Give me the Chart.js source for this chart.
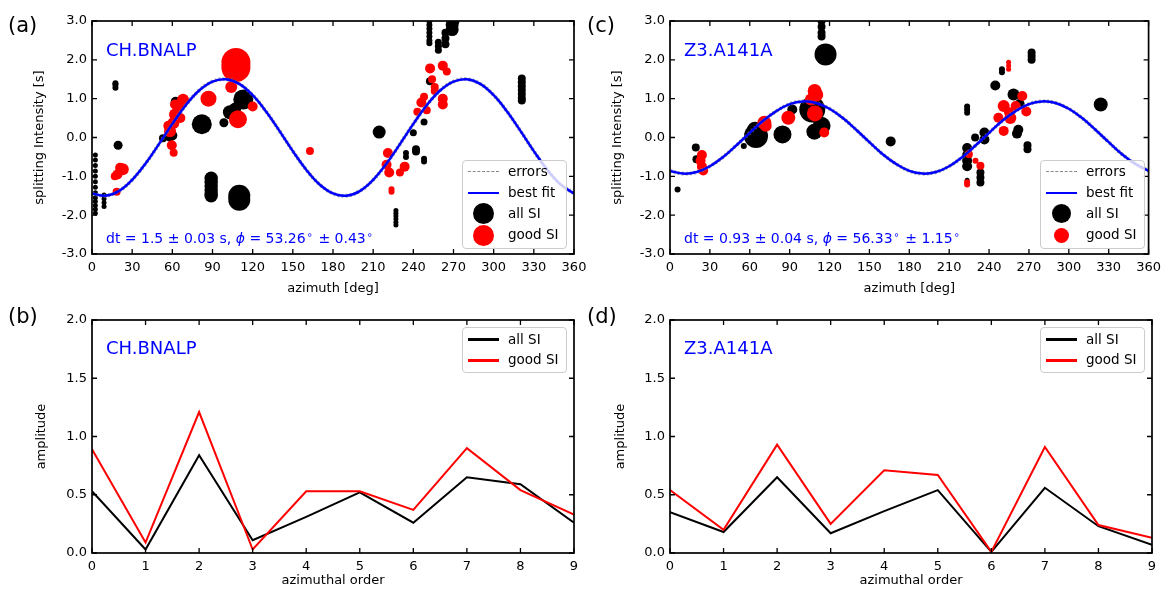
<!DOCTYPE html>
<html>
<head>
<meta charset="utf-8">
<script src="https://cdn.jsdelivr.net/npm/chart.js@4.4.1/dist/chart.umd.min.js"></script>
<style>
  body { margin: 0; background: #fff; }
  #fig { position: relative; width: 1167px; height: 589px; overflow: hidden; font-family: 'DejaVu Sans', sans-serif; color: #000; }
  canvas { position: absolute; }
  .tag { position: absolute; font-size: 21px; line-height: 1; transform: translateY(-53%); }
  .stn { position: absolute; font-size: 18px; line-height: 1; color: #0000ff; transform: translateY(-48%); }
  .fit { position: absolute; font-size: 14px; line-height: 1; color: #0000ff; white-space: nowrap; transform: translateY(-52%); }
  .fit sup { font-size: 10px; vertical-align: 5px; line-height: 0; padding: 0 1px; }
  .leg { position: absolute; box-sizing: border-box; background: rgba(255,255,255,0.8); border: 1.5px solid #cccccc; border-radius: 4px; font-size: 13.5px; }
  .hd { position: absolute; left: 5px; width: 31px; height: 2.5px; margin-top: -1.25px; }
  .hd.dash { height: 0; margin-top: -0.75px; border-top: 1.5px dashed #8a8a8a; }
  .dot { position: absolute; left: 20px; border-radius: 50%; }
  .lt { position: absolute; left: 45px; line-height: 1; white-space: nowrap; transform: translateY(-55%); }
</style>
</head>
<body>
<div id="fig">
  <canvas id="ca" width="600" height="300" style="left:0;top:0"></canvas>
  <canvas id="cb" width="600" height="289" style="left:0;top:300px"></canvas>
  <canvas id="cc" width="584" height="300" style="left:583px;top:0"></canvas>
  <canvas id="cd" width="584" height="289" style="left:583px;top:300px"></canvas>

  <div class="tag" style="left:8px;top:26px">(a)</div>
  <div class="tag" style="left:8px;top:317px">(b)</div>
  <div class="tag" style="left:587px;top:26px">(c)</div>
  <div class="tag" style="left:587px;top:317px">(d)</div>

  <div class="stn" style="left:106px;top:50px">CH.BNALP</div>
  <div class="stn" style="left:106px;top:348px">CH.BNALP</div>
  <div class="stn" style="left:684px;top:50px">Z3.A141A</div>
  <div class="stn" style="left:684px;top:348px">Z3.A141A</div>

  <div class="fit" style="left:106px;top:238px">dt = 1.5 ± 0.03 s, <i>ϕ</i> = 53.26<sup>∘</sup> ± 0.43<sup>∘</sup></div>
  <div class="fit" style="left:684px;top:238px">dt = 0.93 ± 0.04 s, <i>ϕ</i> = 56.33<sup>∘</sup> ± 1.15<sup>∘</sup></div>

  <div class="leg" style="left:462px;top:160px;width:105px;height:89px">
    <div class="hd dash" style="top:11px"></div><span class="lt" style="top:11px">errors</span>
    <div class="hd" style="top:32px;background:#0000ff"></div><span class="lt" style="top:32px">best fit</span>
    <div class="dot" style="top:42px;width:21px;height:21px;margin-left:-10.5px;background:#000"></div><span class="lt" style="top:52.5px">all SI</span>
    <div class="dot" style="top:63.5px;width:21px;height:21px;margin-left:-10.5px;background:#ff0000"></div><span class="lt" style="top:74px">good SI</span>
  </div>
  <div class="leg" style="left:1040px;top:160px;width:105px;height:89px">
    <div class="hd dash" style="top:11px"></div><span class="lt" style="top:11px">errors</span>
    <div class="hd" style="top:32px;background:#0000ff"></div><span class="lt" style="top:32px">best fit</span>
    <div class="dot" style="top:43px;width:19px;height:19px;margin-left:-9.5px;background:#000"></div><span class="lt" style="top:52.5px">all SI</span>
    <div class="dot" style="top:66.5px;width:15px;height:15px;margin-left:-7.5px;background:#ff0000"></div><span class="lt" style="top:74px">good SI</span>
  </div>
  <div class="leg" style="left:462px;top:327px;width:105px;height:46px">
    <div class="hd" style="top:11.5px;height:3px;background:#000"></div><span class="lt" style="top:11.5px">all SI</span>
    <div class="hd" style="top:32px;height:3px;background:#ff0000"></div><span class="lt" style="top:32px">good SI</span>
  </div>
  <div class="leg" style="left:1040px;top:327px;width:105px;height:46px">
    <div class="hd" style="top:11.5px;height:3px;background:#000"></div><span class="lt" style="top:11.5px">all SI</span>
    <div class="hd" style="top:32px;height:3px;background:#ff0000"></div><span class="lt" style="top:32px">good SI</span>
  </div>
</div>

<script>
// fitted sine curves, every 10 degrees
const fitAz = [0,10,20,30,40,50,60,70,80,90,100,110,120,130,140,150,160,170,180,
               190,200,210,220,230,240,250,260,270,280,290,300,310,320,330,340,350,360];
const bnalpFit = [-1.44,-1.50,-1.38,-1.09,-0.67,-0.17,0.35,0.83,1.21,1.44,1.50,1.38,1.09,0.67,0.17,-0.35,-0.83,-1.21,-1.44,
                  -1.50,-1.38,-1.09,-0.67,-0.17,0.35,0.83,1.21,1.44,1.50,1.38,1.09,0.67,0.17,-0.35,-0.83,-1.21,-1.44];
const a141Fit = [-0.86,-0.93,-0.89,-0.74,-0.50,-0.20,0.12,0.43,0.68,0.86,0.93,0.89,0.74,0.50,0.20,-0.12,-0.43,-0.68,-0.86,
                 -0.93,-0.89,-0.74,-0.50,-0.20,0.12,0.43,0.68,0.86,0.93,0.89,0.74,0.50,0.20,-0.12,-0.43,-0.68,-0.86];

// splitting intensity measurements: [azimuth, SI, marker radius]
const bnalpAll = [
  [2.5,-0.45,2.5],[2.5,-0.58,2.5],[2.5,-0.72,2.5],[2.5,-0.86,2.5],[2.5,-1.0,2.5],[2.5,-1.14,2.5],[2.5,-1.28,2.5],
  [2.5,-1.42,2.5],[2.5,-1.55,2.5],[2.5,-1.65,2.5],[2.5,-1.75,2.5],[2.5,-1.85,2.5],[2.5,-1.95,2.5],
  [9,-1.48,2.5],[9,-1.58,2.5],[9,-1.68,2.5],[9,-1.78,2.5],
  [17.5,1.28,3],[17.5,1.36,3],[17.5,1.4,3],[19.5,-0.2,4.5],
  [53,-0.02,4],[58,0.0,4],[60,0.05,5],[62.5,0.92,5],
  [82,0.34,10],
  [89,-1.05,6.7],[89,-1.15,6.7],[89,-1.25,6.7],[89,-1.35,6.7],[89,-1.45,6.7],[89,-1.5,6.7],
  [110,-1.5,11],[110,-1.6,11],
  [98.5,0.38,4.5],[103,0.65,7],[107,0.75,6],[113,0.98,10],[116,1.05,6],
  [214.5,0.14,6.5],
  [252,3.0,3],[252,2.9,3],[252,2.8,3],[252,2.7,3],[252,2.6,3],[252,2.5,3],[252,2.43,3],
  [258.7,2.45,3.5],[258.7,2.35,3.5],[258.7,2.25,3.5],
  [264,2.4,4],[264,2.55,4],[264,2.7,4],
  [269,2.78,6.5],[269,2.9,6.5],[270,3.0,6],
  [252.4,1.45,4],[248,0.4,3.5],[240,0.12,3.5],[242,-0.3,4],[242,-0.36,4],
  [234.5,-0.4,3],[234.5,-0.5,3],[248,-0.55,3],[248,-0.62,3],
  [227,-1.88,2.5],[227,-1.95,2.5],[227,-2.02,2.5],[227,-2.1,2.5],[227,-2.18,2.5],[227,-2.25,2.5],
  [321,1.52,4],[321,1.42,4],[321,1.32,4],[321,1.22,4],[321,1.12,4],[321,1.02,4],[321,0.95,4]
];
const bnalpGood = [
  [18.4,-1.4,4],[19,-0.95,5],[23,-0.82,6],[17,-1.0,4],[21,-0.78,5],
  [58.3,0.16,6],[60.7,0.37,6],[62,0.59,6],[64.5,0.8,6],[68,0.97,6],[62,0.85,5],[66,0.5,5],[57,0.3,5],
  [59.6,-0.2,5],[61,-0.39,4],
  [87,1.0,8],
  [107.5,1.8,14.5],[107.5,1.93,14.5],[104,1.3,6],[109,0.47,9],[120,0.8,5],
  [162.8,-0.35,4],
  [221,-0.4,5],[220,-0.7,5],[222,-0.9,5],[233.5,-0.75,5],[230,-0.9,4],[223.7,-1.4,3],[223.7,-1.33,3],
  [252.5,1.78,5],[262,1.85,5],[265,1.7,4],[254,1.5,4],[256,1.2,4],[256,1.3,4],[262,1.0,5],[262,0.85,5],
  [248,1.05,4],[246,0.9,5],[243,0.66,4],[250,0.7,4]
];
const a141All = [
  [5.7,-1.34,3],[19.4,-0.26,4],[19.9,-0.56,4],[55.5,-0.22,3],
  [64.7,0.04,12],[64,0.2,8],[84.6,0.08,9],[92,0.72,5],
  [107,0.72,13],[108.6,0.15,8],[114,0.3,9],
  [114,3.0,4],[114,2.85,4],[114,2.7,4],[114,2.6,4],[117,2.14,11],
  [166,-0.1,5],
  [223.5,0.8,3],[223.5,0.72,3],[223.5,0.64,3],
  [223.5,-0.27,5],[223.5,-0.45,5],[223.5,-0.6,5],[223.5,-0.74,5],[223.5,-1.1,2.5],
  [229.5,0.0,4],[233.5,-0.9,4],[233.5,-1.03,4],[233.5,-1.16,4],[236.5,0.13,5],[236.5,-0.05,5],
  [244.7,1.34,5],[249.7,1.76,3],[249.7,1.68,3],[258.4,1.11,6],
  [261,0.1,5],[262,0.2,5],[268.9,-0.2,4],[268.9,-0.3,4],[263,0.86,5],
  [272,2.19,4],[272,2.1,4],[272,2.0,4],
  [324,0.85,7]
];
const a141Good = [
  [24,-0.45,5],[23,-0.6,5],[24,-0.75,5],[25,-0.85,5],
  [71,0.38,7],[72,0.3,6],[89,0.51,7],
  [108.8,1.2,7],[110,1.1,7],[106,0.98,6],[109,0.62,8],[116,0.13,5],
  [224.8,-0.43,4],[223.5,-1.21,3],[223.5,-1.15,3],[229.8,-0.6,3],[233.5,-0.73,4],
  [254.7,1.94,2.5],[254.7,1.85,2.5],[254.7,1.76,2.5],
  [251,0.81,6],[247,0.51,5],[251,0.17,5],[256,0.5,6],[260,0.81,5],[265,1.07,5],[268,0.67,5],[255,0.65,5]
];

// harmonic amplitudes per azimuthal order
const orders = [0,1,2,3,4,5,6,7,8,9];
const bnalpAmpAll  = [0.53,0.03,0.84,0.11,0.31,0.52,0.26,0.65,0.59,0.26];
const bnalpAmpGood = [0.89,0.09,1.21,0.03,0.53,0.53,0.37,0.90,0.54,0.33];
const a141AmpAll   = [0.35,0.18,0.65,0.17,0.36,0.54,0.01,0.56,0.23,0.07];
const a141AmpGood  = [0.54,0.20,0.93,0.25,0.71,0.67,0.01,0.91,0.24,0.13];

Chart.defaults.font.family = "'DejaVu Sans', sans-serif";
Chart.defaults.font.size = 13;
Chart.defaults.color = '#000';
Chart.defaults.animation = false;
Chart.defaults.events = [];
Chart.defaults.plugins.legend.display = false;
Chart.defaults.plugins.tooltip.enabled = false;

// matplotlib style box with inward ticks on all four sides
const frameTicks = {
  id: 'frameTicks',
  afterDatasetsDraw(chart) {
    const {ctx, chartArea: a, scales: {x, y}} = chart;
    const len = 5;
    ctx.save();
    ctx.strokeStyle = '#000';
    ctx.lineWidth = 1.3;
    ctx.beginPath();
    x.ticks.forEach(t => {
      const p = x.getPixelForValue(t.value);
      ctx.moveTo(p, a.bottom); ctx.lineTo(p, a.bottom - len);
      ctx.moveTo(p, a.top); ctx.lineTo(p, a.top + len);
    });
    y.ticks.forEach(t => {
      const p = y.getPixelForValue(t.value);
      ctx.moveTo(a.left, p); ctx.lineTo(a.left + len, p);
      ctx.moveTo(a.right, p); ctx.lineTo(a.right - len, p);
    });
    ctx.stroke();
    ctx.lineWidth = 1.7;
    ctx.strokeRect(a.left, a.top, a.right - a.left, a.bottom - a.top);
    ctx.restore();
  }
};

function axes(o) {
  return {
    x: {
      type: 'linear', min: o.xmin, max: o.xmax,
      grid: {display: false, drawTicks: false}, border: {display: false},
      ticks: {stepSize: o.xstep, autoSkip: false, maxRotation: 0, padding: 6, callback: v => String(v)},
      title: {display: true, text: o.xtitle, padding: {top: 0, bottom: o.xtpad}},
      afterFit: s => { s.height = o.xh; }
    },
    y: {
      type: 'linear', min: o.ymin, max: o.ymax,
      grid: {display: false, drawTicks: false}, border: {display: false},
      ticks: {stepSize: o.ystep, padding: 5, callback: v => v.toFixed(1)},
      title: {display: true, text: o.ytitle, padding: {top: o.ytpad, bottom: 0}},
      afterFit: s => { s.width = o.yw; }
    }
  };
}

function pts(list) { return list.map(p => ({x: p[0], y: p[1], r: p[2]})); }
function xy(xs, ys) { return xs.map((v, i) => ({x: v, y: ys[i]})); }

function siChart(id, fit, all, good, pad, yw, ytpad) {
  new Chart(document.getElementById(id), {
    type: 'bubble',
    data: {
      datasets: [
        {type: 'line', label: 'best fit', data: xy(fitAz, fit), borderColor: '#0000ff', borderWidth: 2.5,
         pointRadius: 0, tension: 0.4, fill: false, order: 0, clip: 0},
        {type: 'line', label: 'errors', data: xy(fitAz, fit), borderColor: 'rgba(128,128,128,0.7)', borderWidth: 3.8,
         borderDash: [2, 2], pointRadius: 0, tension: 0.4, fill: false, order: 1, clip: 0},
        {label: 'good SI', data: pts(good), backgroundColor: '#ff0000', borderWidth: 0, order: 2, clip: 0},
        {label: 'all SI', data: pts(all), backgroundColor: '#000000', borderWidth: 0, order: 3, clip: 0}
      ]
    },
    options: {
      responsive: false,
      layout: {padding: pad},
      scales: axes({xmin: 0, xmax: 360, xstep: 30, ymin: -3, ymax: 3, ystep: 1,
                    xtitle: 'azimuth [deg]', ytitle: 'splitting Intensity [s]',
                    xh: 46, yw: yw, xtpad: 3.2, ytpad: ytpad})
    },
    plugins: [frameTicks]
  });
}

function ampChart(id, ampAll, ampGood, pad, yw, ytpad) {
  new Chart(document.getElementById(id), {
    type: 'line',
    data: {
      datasets: [
        {label: 'good SI', data: xy(orders, ampGood), borderColor: '#ff0000', borderWidth: 2, pointRadius: 0, tension: 0, order: 0},
        {label: 'all SI', data: xy(orders, ampAll), borderColor: '#000000', borderWidth: 2, pointRadius: 0, tension: 0, order: 1}
      ]
    },
    options: {
      responsive: false,
      layout: {padding: pad},
      scales: axes({xmin: 0, xmax: 9, xstep: 1, ymin: 0, ymax: 2, ystep: 0.5,
                    xtitle: 'azimuthal order', ytitle: 'amplitude',
                    xh: 36, yw: yw, xtpad: 0.2, ytpad: ytpad})
    },
    plugins: [frameTicks]
  });
}

siChart('ca', bnalpFit, bnalpAll, bnalpGood, {top: 21, right: 26, bottom: 0, left: 0}, 92, 32.2);
siChart('cc', a141Fit, a141All, a141Good, {top: 21, right: 15, bottom: 0, left: 0}, 87, 27.2);
ampChart('cb', bnalpAmpAll, bnalpAmpGood, {top: 20, right: 26, bottom: 0, left: 0}, 92, 34.2);
ampChart('cd', a141AmpAll, a141AmpGood, {top: 20, right: 15, bottom: 0, left: 0}, 87, 30.2);
</script>
</body>
</html>
